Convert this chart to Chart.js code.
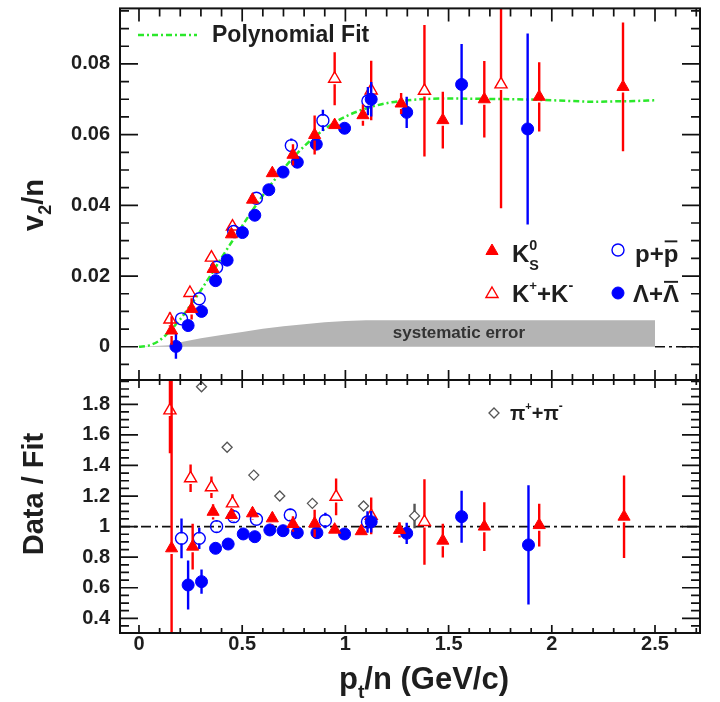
<!DOCTYPE html>
<html>
<head>
<meta charset="utf-8">
<script src="https://cdn.jsdelivr.net/npm/chart.js@4.4.1/dist/chart.umd.min.js"></script>
<style>
  html, body { margin: 0; padding: 0; background: #fff; }
  #wrap { position: relative; width: 720px; height: 702px; }
  #wrap canvas { position: absolute; left: 0; top: 0; }
</style>
</head>
<body>
<div id="wrap">
  <canvas id="topPanel" width="720" height="702"></canvas>
  <canvas id="ratioPanel" width="720" height="702"></canvas>
</div>
<script>
// ---- values ----
// polynomial fit of v2/n vs pt/n
const fitPt = [0, 0.05, 0.1, 0.15, 0.2, 0.25, 0.3, 0.35, 0.4, 0.45, 0.5, 0.55, 0.6, 0.65, 0.7, 0.75, 0.8, 0.85, 0.9, 0.95, 1.0, 1.1, 1.2, 1.3, 1.4, 1.5, 1.7, 1.9, 2.1, 2.2, 2.3, 2.4, 2.5];
const fitV = [0, 0.0004, 0.0018, 0.0045, 0.0078, 0.0118, 0.016, 0.0205, 0.0252, 0.0297, 0.0342, 0.0386, 0.0428, 0.0467, 0.0503, 0.0537, 0.0567, 0.0593, 0.0616, 0.0635, 0.0651, 0.0674, 0.0689, 0.0697, 0.0701, 0.0702, 0.0701, 0.0699, 0.0695, 0.0693, 0.0694, 0.0695, 0.0697];

// systematic error band (upper edge, lower edge is 0)
const sysPt = [0, 0.15, 0.2, 0.3, 0.4, 0.5, 0.6, 0.7, 0.8, 0.9, 1.0, 1.1, 1.5, 2.0, 2.5];
const sysV = [0, 0.0004, 0.0013, 0.0024, 0.0033, 0.0042, 0.0051, 0.0058, 0.0064, 0.0069, 0.0073, 0.0075, 0.0075, 0.0075, 0.0075];

// upper panel: v2/n
const k0sPt = [0.158, 0.255, 0.359, 0.448, 0.55, 0.646, 0.746, 0.851, 0.948, 1.085, 1.27, 1.472, 1.673, 1.939, 2.345];
const k0sV = [0.0046, 0.0107, 0.022, 0.0318, 0.0416, 0.0491, 0.0543, 0.0599, 0.0627, 0.0655, 0.0688, 0.0641, 0.07, 0.0707, 0.0735];
const k0sErr = [0.004, 0.003, 0.0015, 0.0015, 0.0015, 0.0015, 0.003, 0.0055, 0.0015, 0.003, 0.003, 0.008, 0.0108, 0.0098, 0.0182];

const kchPt = [0.15, 0.247, 0.351, 0.453, 0.948, 1.125, 1.383, 1.754];
const kchV = [0.0077, 0.0152, 0.0252, 0.034, 0.0758, 0.0725, 0.0724, 0.0742];
const kchErr = [0.002, 0.0015, 0.0015, 0.0015, 0.0075, 0.0084, 0.0186, 0.035];

const ppPt = [0.206, 0.292, 0.376, 0.459, 0.569, 0.738, 0.891, 1.109];
const ppV = [0.0079, 0.0136, 0.0225, 0.0326, 0.042, 0.0569, 0.064, 0.0695];
const ppErr = [0.001, 0.001, 0.001, 0.001, 0.001, 0.002, 0.003, 0.004];

const lamPt = [0.179, 0.238, 0.303, 0.371, 0.427, 0.501, 0.561, 0.629, 0.698, 0.767, 0.859, 0.996, 1.125, 1.297, 1.563, 1.883];
const lamV = [0.0001, 0.006, 0.01, 0.0187, 0.0245, 0.0323, 0.0372, 0.0444, 0.0494, 0.0522, 0.0573, 0.0618, 0.07, 0.0663, 0.0742, 0.0616];
const lamErr = [0.0035, 0.0015, 0.001, 0.001, 0.001, 0.001, 0.001, 0.001, 0.001, 0.001, 0.0015, 0.0015, 0.0049, 0.0044, 0.0114, 0.027];

// lower panel: data / fit
const k0sRatioPt = [0.158, 0.26, 0.359, 0.448, 0.55, 0.646, 0.746, 0.851, 0.948, 1.077, 1.262, 1.472, 1.673, 1.939, 2.35];
const k0sRatio = [0.858, 0.869, 1.097, 1.076, 1.087, 1.054, 1.017, 1.02, 0.98, 0.97, 0.978, 0.908, 1.0, 1.01, 1.065];
const k0sRatioErr = [1.2, 0.15, 0.05, 0.04, 0.04, 0.04, 0.05, 0.09, 0.03, 0.03, 0.05, 0.11, 0.16, 0.14, 0.27];

const kchRatioPt = [0.15, 0.25, 0.351, 0.453, 0.955, 1.125, 1.383];
const kchRatio = [1.76, 1.316, 1.257, 1.152, 1.195, 1.07, 1.03];
const kchRatioErr = [0.28, 0.09, 0.07, 0.06, 0.12, 0.12, 0.28];

const ppRatioPt = [0.206, 0.292, 0.376, 0.459, 0.569, 0.733, 0.903, 1.107];
const ppRatio = [0.923, 0.923, 1.0, 1.065, 1.048, 1.076, 1.04, 1.03];
const ppRatioErr = [0.13, 0.07, 0.04, 0.04, 0.03, 0.04, 0.05, 0.07];

const lamRatioPt = [0.238, 0.303, 0.371, 0.432, 0.505, 0.561, 0.634, 0.698, 0.767, 0.862, 0.996, 1.125, 1.297, 1.563, 1.887];
const lamRatio = [0.618, 0.64, 0.858, 0.886, 0.952, 0.934, 0.978, 0.973, 0.96, 0.96, 0.952, 1.032, 0.956, 1.065, 0.88];
const lamRatioErr = [0.16, 0.08, 0.03, 0.03, 0.03, 0.02, 0.02, 0.02, 0.02, 0.03, 0.02, 0.07, 0.07, 0.17, 0.39];

const piRatioPt = [0.303, 0.427, 0.556, 0.682, 0.84, 1.088, 1.335];
const piRatio = [1.915, 1.519, 1.337, 1.2, 1.152, 1.135, 1.07];
const piRatioErr = [0, 0, 0, 0, 0, 0, 0.08];

// tick labels
const xTicks = [0, 0.5, 1, 1.5, 2, 2.5];
const topYTicks = [0, 0.02, 0.04, 0.06, 0.08];
const ratioYTicks = [0.4, 0.6, 0.8, 1, 1.2, 1.4, 1.6, 1.8];

// ---- styling ----
const FONT = '"Liberation Sans", Arial, Helvetica, sans-serif';
const INK = '#1e1e1e';
const RED = '#ff0000';
const BLUE = '#0000ff';
const FIT_GREEN = '#2be82b';
const NONE = 'rgba(0,0,0,0)';

const X_MIN = -0.092, X_MAX = 2.718;

const pts = (xs, ys) => xs.map((x, i) => ({ x, y: ys[i] }));

const styleK0s = { pointStyle: 'triangle', pointRadius: 7, backgroundColor: RED, borderColor: RED, borderWidth: 1 };
const styleKch = { pointStyle: 'triangle', pointRadius: 7, backgroundColor: NONE, borderColor: RED, borderWidth: 1.4 };
const stylePp = { pointStyle: 'circle', pointRadius: 6, backgroundColor: NONE, borderColor: BLUE, borderWidth: 1.4 };
const styleLam = { pointStyle: 'circle', pointRadius: 6, backgroundColor: BLUE, borderColor: BLUE, borderWidth: 1 };
const stylePi = { pointStyle: 'rectRot', pointRadius: 5, backgroundColor: NONE, borderColor: '#555', borderWidth: 1.3 };

function series(label, xs, ys, errs, style, order) {
  return Object.assign({ type: 'scatter', label, data: pts(xs, ys), errors: errs, order,
    pointHoverRadius: style.pointRadius }, style);
}

// vertical error bars, drawn right under each series' own markers
const errorBars = {
  id: 'errorBars',
  beforeDatasetDraw(chart, args) {
    const ds = chart.data.datasets[args.index];
    if (!ds.errors) return;
    const { ctx, chartArea: a } = chart;
    const yScale = chart.scales[args.meta.yAxisID];
    ctx.save();
    ctx.beginPath();
    ctx.rect(a.left, a.top, a.right - a.left, a.bottom - a.top);
    ctx.clip();
    ctx.strokeStyle = ds.borderColor;
    ctx.lineWidth = 2.4;
    args.meta.data.forEach((el, i) => {
      const e = ds.errors[i];
      if (!e) return;
      const v = ds.data[i].y;
      const yHi = yScale.getPixelForValue(v + e);
      const yLo = yScale.getPixelForValue(v - e);
      const r = ds.pointRadius * 0.8;
      ctx.beginPath();
      if (yHi < el.y - r) { ctx.moveTo(el.x, yHi); ctx.lineTo(el.x, el.y - r); }
      if (yLo > el.y + r) { ctx.moveTo(el.x, el.y + r); ctx.lineTo(el.x, yLo); }
      ctx.stroke();
    });
    ctx.restore();
  }
};

// dash-dot reference line (y = 1 in the ratio, y = 0 past the band on top)
const refLine = {
  id: 'refLine',
  beforeDatasetsDraw(chart, args, o) {
    const { ctx, scales: { x, y } } = chart;
    const py = y.getPixelForValue(o.value);
    ctx.save();
    ctx.strokeStyle = '#111';
    ctx.lineWidth = 1.6;
    ctx.setLineDash([10, 4, 3, 4]);
    ctx.beginPath();
    ctx.moveTo(x.getPixelForValue(o.from), py);
    ctx.lineTo(x.getPixelForValue(o.to), py);
    ctx.stroke();
    ctx.restore();
  }
};

// ROOT style frame with inward ticks on all four sides
const frame = {
  id: 'frame',
  afterDraw(chart, args, o) {
    const { ctx, chartArea: a, scales: { x, y } } = chart;
    ctx.save();
    ctx.strokeStyle = '#111';
    ctx.lineWidth = 1.7;
    ctx.beginPath();
    for (let i = 0; i <= 27; i++) {
      const px = x.getPixelForValue(i / 10);
      const major = i % 5 === 0;
      const lt = major ? o.xTopMajor : o.xTopMinor;
      const lb = major ? o.xBotMajor : o.xBotMinor;
      ctx.moveTo(px, a.top); ctx.lineTo(px, a.top + lt);
      ctx.moveTo(px, a.bottom); ctx.lineTo(px, a.bottom - lb);
    }
    for (let i = o.yFrom; i <= o.yTo; i++) {
      const py = y.getPixelForValue(i * o.yStep);
      if (py < a.top || py > a.bottom) continue;
      const len = i % 4 === 0 ? 18 : 9;
      ctx.moveTo(a.left, py); ctx.lineTo(a.left + len, py);
      ctx.moveTo(a.right, py); ctx.lineTo(a.right - len, py);
    }
    ctx.stroke();
    ctx.lineWidth = 2;
    ctx.strokeRect(a.left, a.top, a.right - a.left, a.bottom - a.top);
    ctx.restore();
  }
};

// text made of pieces: sub/superscripts, overlines
function richText(ctx, parts, x, y, size, align) {
  let w = 0;
  parts.forEach(p => {
    ctx.font = `bold ${size * (p.s || 1)}px ${FONT}`;
    p.w = ctx.measureText(p.t).width;
    if (!p.stack) w += p.w;
  });
  let cx = align === 'center' ? x - w / 2 : x;
  ctx.textAlign = 'left';
  ctx.textBaseline = 'alphabetic';
  parts.forEach(p => {
    ctx.font = `bold ${size * (p.s || 1)}px ${FONT}`;
    ctx.fillText(p.t, cx, y + (p.dy || 0) * size);
    if (p.over) ctx.fillRect(cx + 1, y - p.over * size, p.w - 2, Math.max(1.5, size * 0.08));
    if (!p.stack) cx += p.w;
  });
}

function marker(ctx, style, x, y) {
  ctx.save();
  ctx.fillStyle = style.backgroundColor;
  ctx.strokeStyle = style.borderColor;
  ctx.lineWidth = style.borderWidth;
  Chart.helpers.drawPoint(ctx, { pointStyle: style.pointStyle, radius: style.pointRadius, rotation: 0, borderWidth: style.borderWidth }, x, y);
  ctx.restore();
}

const topText = {
  id: 'topText',
  afterDraw(chart) {
    const { ctx, scales: { x, y } } = chart;
    ctx.save();
    ctx.fillStyle = INK;
    // fit legend
    ctx.strokeStyle = FIT_GREEN;
    ctx.lineWidth = 2.5;
    ctx.setLineDash([6, 3, 2, 3]);
    ctx.beginPath(); ctx.moveTo(138, 35); ctx.lineTo(197, 35); ctx.stroke();
    ctx.setLineDash([]);
    richText(ctx, [{ t: 'Polynomial Fit' }], 212, 42, 23, 'left');
    // band label
    ctx.fillStyle = '#333';
    richText(ctx, [{ t: 'systematic error' }], x.getPixelForValue(1.55), y.getPixelForValue(0.0024), 17, 'center');
    // species legend
    ctx.fillStyle = INK;
    marker(ctx, styleK0s, 492, 251);
    richText(ctx, [{ t: 'K' }, { t: '0', s: 0.6, dy: -0.5, stack: true }, { t: 'S', s: 0.6, dy: 0.32 }], 512, 262, 24, 'left');
    marker(ctx, stylePp, 618, 250);
    ctx.fillStyle = INK;
    richText(ctx, [{ t: 'p' }, { t: '+' }, { t: 'p', over: 0.9 }], 635, 262, 24, 'left');
    marker(ctx, styleKch, 492, 294);
    ctx.fillStyle = INK;
    richText(ctx, [{ t: 'K' }, { t: '+', s: 0.55, dy: -0.5 }, { t: '+' }, { t: 'K' }, { t: '-', s: 0.6, dy: -0.5 }], 512, 302, 24, 'left');
    marker(ctx, styleLam, 618, 293);
    ctx.fillStyle = INK;
    richText(ctx, [{ t: 'Λ' }, { t: '+' }, { t: 'Λ', over: 0.88 }], 633, 302, 24, 'left');
    // y title
    ctx.translate(43, 205);
    ctx.rotate(-Math.PI / 2);
    richText(ctx, [{ t: 'v' }, { t: '2', s: 0.62, dy: 0.28 }, { t: '/n' }], 0, 0, 29, 'center');
    ctx.restore();
  }
};

const ratioText = {
  id: 'ratioText',
  afterDraw(chart) {
    const { ctx } = chart;
    ctx.save();
    ctx.fillStyle = INK;
    marker(ctx, stylePi, 494, 413);
    ctx.fillStyle = INK;
    richText(ctx, [{ t: 'π' }, { t: '+', s: 0.55, dy: -0.5 }, { t: '+' }, { t: 'π' }, { t: '-', s: 0.6, dy: -0.5 }], 510, 420, 20, 'left');
    richText(ctx, [{ t: 'p' }, { t: 't', s: 0.62, dy: 0.28 }, { t: '/n (GeV/c)' }], 424, 689, 31, 'center');
    ctx.translate(43, 494);
    ctx.rotate(-Math.PI / 2);
    richText(ctx, [{ t: 'Data / Fit' }], 0, 0, 29, 'center');
    ctx.restore();
  }
};

const tickFont = { family: FONT, size: 20, weight: 'bold', lineHeight: 1 };

function yAxis(min, max, values, fmt) {
  return {
    type: 'linear', min, max,
    afterBuildTicks: s => { s.ticks = values.map(v => ({ value: v })); },
    afterFit: s => { s.width = 120; s.paddingTop = 0; s.paddingBottom = 0; },
    grid: { display: false },
    border: { display: false },
    ticks: { padding: 2, color: INK, font: tickFont, callback: fmt }
  };
}

// upper panel: v2/n
new Chart(document.getElementById('topPanel'), {
  type: 'scatter',
  data: {
    datasets: [
      { type: 'line', label: 'systematic error', data: pts(sysPt, sysV), showLine: true, fill: 'origin',
        backgroundColor: '#b4b4b4', borderWidth: 0, pointRadius: 0, order: 10 },
      { type: 'line', label: 'Polynomial Fit', data: pts(fitPt, fitV), showLine: true, fill: false,
        borderColor: FIT_GREEN, borderWidth: 2.5, borderDash: [6, 3, 2, 3], pointRadius: 0,
        cubicInterpolationMode: 'monotone', order: 9 },
      series('K+K-', kchPt, kchV, kchErr, styleKch, 4),
      series('p+pbar', ppPt, ppV, ppErr, stylePp, 3),
      series('Lambda', lamPt, lamV, lamErr, styleLam, 2),
      series('K0S', k0sPt, k0sV, k0sErr, styleK0s, 1)
    ]
  },
  options: {
    responsive: false,
    animation: false,
    events: [],
    layout: { padding: { top: 6, right: 20, bottom: 322, left: 0 } },
    scales: {
      x: { type: 'linear', min: X_MIN, max: X_MAX, display: false },
      y: yAxis(-0.0094, 0.0957, topYTicks, v => (v === 0 ? '0' : v.toFixed(2)))
    },
    plugins: {
      legend: { display: false },
      tooltip: { enabled: false },
      refLine: { value: 0, from: 2.5, to: X_MAX },
      frame: { xTopMajor: 13, xTopMinor: 8, xBotMajor: 10, xBotMinor: 6, yFrom: -1, yTo: 19, yStep: 0.005 }
    }
  },
  plugins: [errorBars, refLine, frame, topText]
});

// lower panel: data / fit
new Chart(document.getElementById('ratioPanel'), {
  type: 'scatter',
  data: {
    datasets: [
      series('pi+pi-', piRatioPt, piRatio, piRatioErr, stylePi, 5),
      series('K+K-', kchRatioPt, kchRatio, kchRatioErr, styleKch, 4),
      series('p+pbar', ppRatioPt, ppRatio, ppRatioErr, stylePp, 3),
      series('Lambda', lamRatioPt, lamRatio, lamRatioErr, styleLam, 2),
      series('K0S', k0sRatioPt, k0sRatio, k0sRatioErr, styleK0s, 1)
    ]
  },
  options: {
    responsive: false,
    animation: false,
    events: [],
    layout: { padding: { top: 380, right: 20, bottom: 0, left: 0 } },
    scales: {
      x: {
        type: 'linear', min: X_MIN, max: X_MAX,
        afterBuildTicks: s => { s.ticks = xTicks.map(v => ({ value: v })); },
        afterFit: s => { s.height = 69; s.paddingLeft = 0; s.paddingRight = 0; },
        grid: { display: false },
        border: { display: false },
        ticks: { padding: -7, color: INK, font: tickFont, maxRotation: 0, callback: v => String(v) }
      },
      y: yAxis(0.304, 1.959, ratioYTicks, v => (v === 1 ? '1' : v.toFixed(1)))
    },
    plugins: {
      legend: { display: false },
      tooltip: { enabled: false },
      refLine: { value: 1, from: X_MIN, to: X_MAX },
      frame: { xTopMajor: 8, xTopMinor: 5, xBotMajor: 8, xBotMinor: 5, yFrom: 7, yTo: 39, yStep: 0.05 }
    }
  },
  plugins: [errorBars, refLine, frame, ratioText]
});
</script>
</body>
</html>
